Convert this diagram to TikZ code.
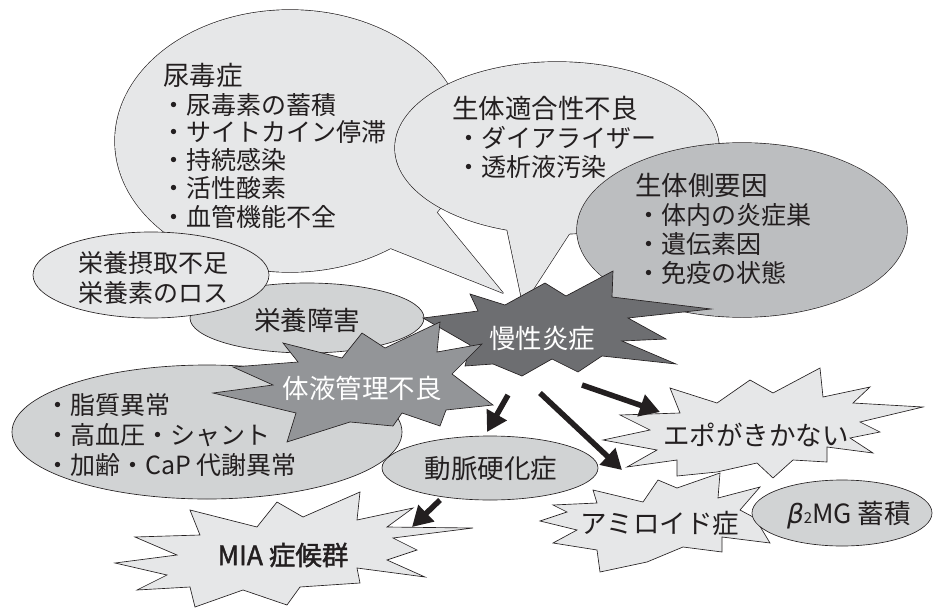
\documentclass[tikz,border=0pt]{standalone}
\usepackage{fontspec}
\newfontfamily\jp{Noto Sans CJK JP}
\newfontfamily\jpb[FakeBold=1.6]{Noto Sans CJK JP}
\newfontfamily\dvs{DejaVu Sans}
\usetikzlibrary{arrows.meta}
\definecolor{lightg}{HTML}{E6E7E8}
\definecolor{midg}{HTML}{D1D3D4}
\definecolor{sideg}{HTML}{BCBEC0}
\definecolor{fluidg}{HTML}{939598}
\definecolor{darkg}{HTML}{6D6E71}
\definecolor{ink}{HTML}{231F20}
\tikzset{
  outl/.style={draw=ink, line width=1.3pt, line join=round},
  shp/.style={draw=ink, line width=0.65pt, line join=miter},
  txt/.style={inner sep=0pt, anchor=west, text=ink, font=\jp\fontsize{25}{28}\selectfont},
  ttl/.style={inner sep=0pt, anchor=west, text=ink, font=\jp\fontsize{26.5}{30}\selectfont},
  ctr/.style={inner sep=0pt, anchor=center, text=ink, font=\jp\fontsize{26.5}{30}\selectfont},
  wctr/.style={inner sep=0pt, anchor=center, text=white, font=\jp\fontsize{26.5}{30}\selectfont},
  blk/.style={draw=ink, line width=5.5pt, -{Triangle[length=20pt,width=22pt]}, ink}
}
\begin{document}
\begin{tikzpicture}[x=1pt,y=-1pt]
\useasboundingbox (0,0) rectangle (935,608);

% ---- 尿毒症 callout
\draw[outl] (290,141) ellipse [x radius=175pt, y radius=131pt];
\draw[outl] (370,240) -- (503,293) -- (420,192) -- cycle;
\fill[lightg] (290,141) ellipse [x radius=175pt, y radius=131pt];
\fill[lightg] (370,240) -- (503,293) -- (420,192) -- cycle;

% ---- 生体適合性不良 callout
\draw[outl] (557,148) ellipse [x radius=162pt, y radius=86pt];
\draw[outl] (503,210) -- (523,305) -- (582,214) -- cycle;
\fill[lightg] (557,148) ellipse [x radius=162pt, y radius=86pt];
\fill[lightg] (503,210) -- (523,305) -- (582,214) -- cycle;

% ---- 生体側要因 callout
\draw[outl] (742,230) ellipse [x radius=165pt, y radius=87pt];
\draw[outl] (615,270) -- (605,305) -- (660,300) -- cycle;
\fill[sideg] (742,230) ellipse [x radius=165pt, y radius=87pt];
\fill[sideg] (615,270) -- (605,305) -- (660,300) -- cycle;

% ---- ellipses
\filldraw[shp, fill=midg] (307,318) ellipse [x radius=117pt, y radius=35pt];
\filldraw[shp, fill=lightg] (151,275) ellipse [x radius=118pt, y radius=43pt];
\filldraw[shp, fill=midg] (207,432) ellipse [x radius=195pt, y radius=67pt];

% ---- 慢性炎症 star
\filldraw[shp, fill=darkg] (470,294) -- (505,305) -- (545,283) -- (566,296) -- (613,271)
  -- (612,297) -- (711,309) -- (628,318) -- (666,339) -- (622,341) -- (676,364)
  -- (602,356) -- (578,372) -- (552,359) -- (522,376) -- (493,364) -- (465,366)
  -- (470,345) -- (423,318) -- (478,311) -- cycle;

% ---- 体液管理不良 star
\filldraw[shp, fill=fluidg] (283,343) -- (342,358) -- (362,333) -- (385,348) -- (440,322)
  -- (437,352) -- (482,344) -- (452,374) -- (493,405) -- (446,410) -- (440,426)
  -- (402,413) -- (393,426) -- (350,422) -- (287,442) -- (296,413) -- (213,393)
  -- (273,385) -- (233,367) -- (298,362) -- cycle;

% ---- 動脈硬化症
\filldraw[shp, fill=midg] (490,468) ellipse [x radius=108pt, y radius=32pt];

% ---- エポがきかない star
\filldraw[shp, fill=lightg] (670,388) -- (717,403) -- (750,380) -- (773,393) -- (820,368)
  -- (823,397) -- (870,387) -- (853,403) -- (923,407) -- (860,422) -- (880,432)
  -- (850,438) -- (873,453) -- (827,447) -- (827,462) -- (793,460) -- (773,478)
  -- (757,463) -- (717,472) -- (677,476) -- (677,460) -- (627,467) -- (657,450)
  -- (603,440) -- (650,430) -- (620,415) -- (680,413) -- cycle;

% ---- アミロイド症 star
\filldraw[shp, fill=lightg] (593,490) -- (643,502) -- (658,480) -- (677,488) -- (720,473)
  -- (718,498) -- (760,487) -- (740,510) -- (755,518) -- (770,543) -- (722,537)
  -- (722,552) -- (683,547) -- (647,562) -- (600,572) -- (597,550) -- (553,543)
  -- (577,530) -- (540,521) -- (567,512) -- (553,505) -- (597,503) -- cycle;

% ---- β2MG
\filldraw[shp, fill=midg] (842,513) ellipse [x radius=90pt, y radius=33pt];

% ---- MIA star
\filldraw[shp, fill=lightg] (190,510) -- (200,535) -- (135,537) -- (177,555) -- (115,563)
  -- (167,575) -- (137,590) -- (190,587) -- (195,607) -- (243,590) -- (287,605)
  -- (300,587) -- (360,583) -- (357,568) -- (425,577) -- (387,560) -- (417,550)
  -- (393,538) -- (473,528) -- (387,527) -- (413,508) -- (357,520) -- (360,492)
  -- (303,517) -- (277,502) -- (257,527) -- cycle;

% ---- texts
\node[ttl] (t1) at (163,75) {尿毒症};
\node[txt] (t1a) at (161,105) {・尿毒素の蓄積};
\node[txt] (t1b) at (161,132) {・サイトカイン停滞};
\node[txt] (t1c) at (161,160) {・持続感染};
\node[txt] (t1d) at (161,188) {・活性酸素};
\node[txt] (t1e) at (161,217) {・血管機能不全};

\node[ttl] (t2) at (452,108) {生体適合性不良};
\node[txt] (t2a) at (456,138) {・ダイアライザー};
\node[txt] (t2b) at (456,167) {・透析液汚染};

\node[ttl] (t3) at (635,185) {生体側要因};
\node[txt] (t3a) at (636,215) {・体内の炎症巣};
\node[txt] (t3b) at (636,244) {・遺伝素因};
\node[txt] (t3c) at (636,273) {・免疫の状態};

\node[txt] (t4a) at (78,263) {栄養摂取不足};
\node[txt] (t4b) at (78,293) {栄養素のロス};
\node[ctr] (t5) at (307,320) {栄養障害};

\node[txt] (t6a) at (45,405) {・脂質異常};
\node[txt] (t6b) at (45,435) {・高血圧・シャント};
\node[txt] (t6c) at (45,465) {・加齢・CaP 代謝異常};

\node[wctr] (t7) at (362,388) {体液管理不良};
\node[wctr] (t8) at (542,338) {慢性炎症};
\node[ctr] (t9) at (491,468) {動脈硬化症};
\node[ctr] (t10) at (756,435) {エポがきかない};
\node[ctr] (t11) at (660,523) {アミロイド症};
\node[ctr] (t12) at (849,515) {{\dvs\itshape β}{\fontsize{15}{15}\selectfont 2}MG 蓄積};
\node[ctr, font=\jpb\fontsize{26.5}{30}\selectfont] (t13) at (283,555) {MIA 症候群};

% ---- arrows
\coordinate (a1s) at (582,385); \coordinate (a1e) at (660,412);
\coordinate (a2s) at (540,393); \coordinate (a2e) at (622,470);
\coordinate (a3s) at (508,395); \coordinate (a3e) at (487,432);
\coordinate (a4s) at (440,500); \coordinate (a4e) at (412,527);
\draw[blk] (a1s) -- (a1e);
\draw[blk] (a2s) -- (a2e);
\draw[blk] (a3s) -- (a3e);
\draw[blk] (a4s) -- (a4e);
\end{tikzpicture}
\end{document}
